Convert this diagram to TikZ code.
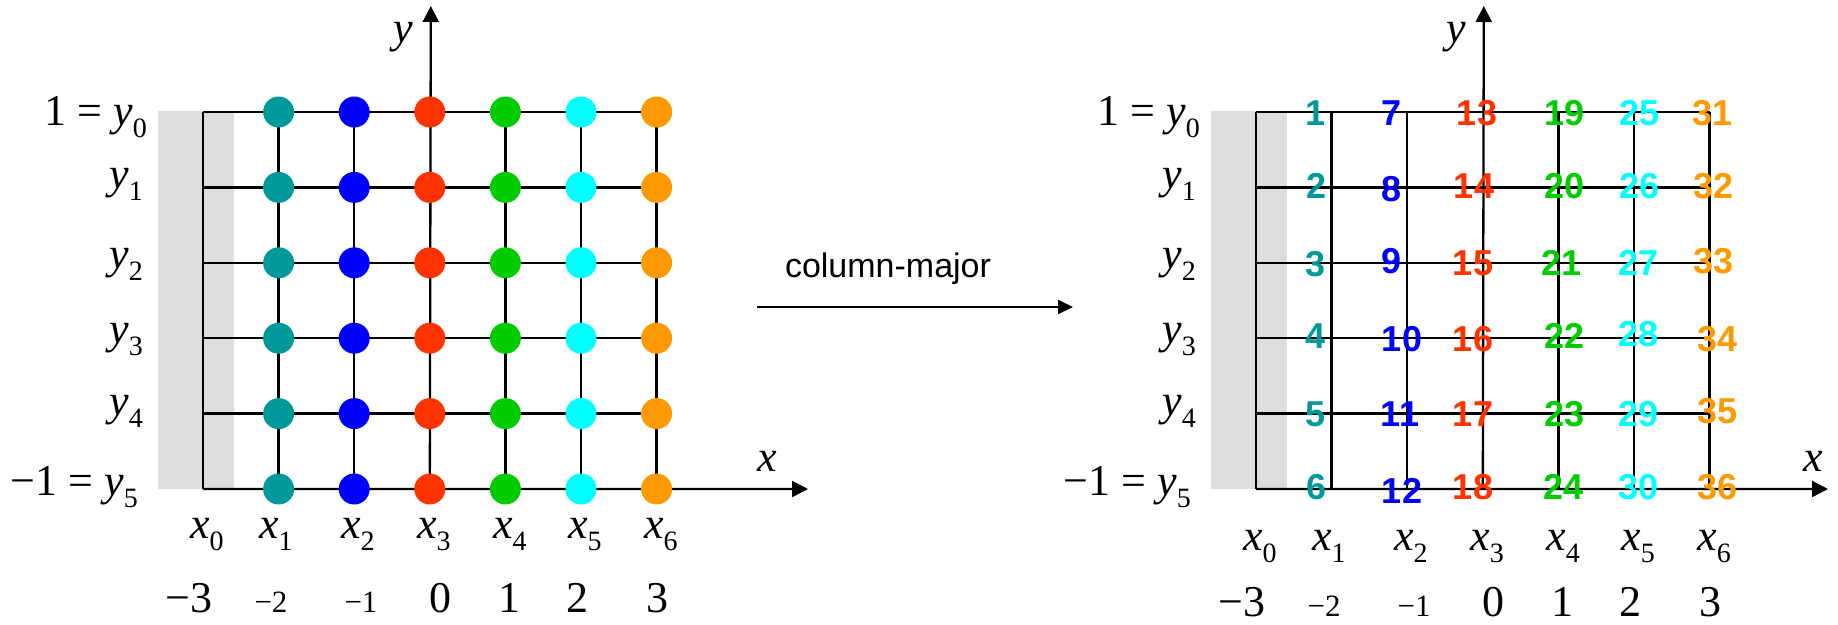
\documentclass[tikz,border=0pt]{standalone}
\usepackage{fontspec}
\setmainfont{Liberation Serif}
\newfontfamily\arialfont{Liberation Sans}
\usetikzlibrary{arrows.meta}
\definecolor{cteal}{HTML}{009999}
\definecolor{cblue}{HTML}{0000FF}
\definecolor{cred}{HTML}{FF3300}
\definecolor{cgreen}{HTML}{00CC00}
\definecolor{ccyan}{HTML}{00FFFF}
\definecolor{corange}{HTML}{FF9900}
\definecolor{cgray}{HTML}{DDDDDD}
\tikzset{
  gridline/.style={line width=2.3pt, black},
  axisline/.style={line width=2.3pt, black, -{Triangle[length=16pt,width=16pt]}},
  maparrow/.style={line width=2pt, black, -{Triangle[length=15pt,width=14pt]}},
  dot/.style={circle, fill=#1, draw=none, minimum size=31pt, inner sep=0pt},
  lbl/.style={inner sep=0pt, font=\fontsize{44}{48}\selectfont},
  sml/.style={inner sep=0pt, font=\fontsize{31}{34}\selectfont},
  num/.style={inner sep=0pt, text=#1, font=\arialfont\bfseries\fontsize{36}{38}\selectfont},
  cmtext/.style={inner sep=0pt, font=\arialfont\fontsize{34}{38}\selectfont},
}
\newcommand\lsub[2]{\textit{#1}\raisebox{-12pt}{\fontsize{28}{28}\selectfont #2}}
\begin{document}
\begin{tikzpicture}[x=1pt,y=-1pt]
\useasboundingbox (0,0) rectangle (1838,624);

\foreach \p/\sh/\xe/\xlx/\xb/\nb in {L/0/808/757/538/612, R/1053/775/750/550/616}{
\begin{scope}[xshift=\sh pt]
  \fill[cgray] (158,111) rectangle (234,489);
  \foreach \c in {0,...,6}{
    \foreach \r in {0,...,5}{
      \coordinate (\p-\c-\r) at ({203+75.6*\c},{112+75.4*\r});
    }
  }
  \foreach \r in {0,...,4}{ \draw[gridline] (\p-0-\r) -- (\p-6-\r); }
  \foreach \c in {0,1,2,4,5,6}{ \draw[gridline] (\p-\c-0) -- (\p-\c-5); }
  \coordinate (\p-xend) at (\xe,489);
  \coordinate (\p-yend) at (430.8,6);
  \draw[axisline] (\p-0-5) -- (\p-xend);
  \draw[axisline] (\p-3-5) -- (\p-yend);
  % axis labels
  \node[lbl, anchor=base west] (\p-ylab) at (393,42) {\textit{y}};
  \node[lbl, anchor=base west] (\p-xlab) at (\xlx,471) {\textit{x}};
  % y labels
  \node[lbl, anchor=base east] (\p-y0) at (147,125) {1 = \lsub{y}{0}};
  \node[lbl, anchor=base west] (\p-y1) at (109,188) {\lsub{y}{1}};
  \node[lbl, anchor=base west] (\p-y2) at (109,268) {\lsub{y}{2}};
  \node[lbl, anchor=base west] (\p-y3) at (109,343) {\lsub{y}{3}};
  \node[lbl, anchor=base west] (\p-y4) at (109,415) {\lsub{y}{4}};
  \node[lbl, anchor=base east] (\p-y5) at (138,495) {−1 = \lsub{y}{5}};
  % x labels
  \foreach \i/\lx in {0/190,1/259,2/341,3/417,4/493,5/568,6/644}{
    \node[lbl, anchor=base west] (\p-x\i) at (\lx,\xb) {\lsub{x}{\i}};
  }
  % values
  \node[lbl, anchor=base] (\p-v0) at (189,\nb) {−3};
  \node[sml, anchor=base] (\p-v1) at (271,\nb) {−2};
  \node[sml, anchor=base] (\p-v2) at (361,\nb) {−1};
  \node[lbl, anchor=base] (\p-v3) at (440,\nb) {0};
  \node[lbl, anchor=base] (\p-v4) at (509,\nb) {1};
  \node[lbl, anchor=base] (\p-v5) at (577,\nb) {2};
  \node[lbl, anchor=base] (\p-v6) at (657,\nb) {3};
\end{scope}
}

% dots on the left grid
\foreach \c/\col in {1/cteal,2/cblue,3/cred,4/cgreen,5/ccyan,6/corange}{
  \foreach \r in {0,...,5}{
    \node[dot=\col] (d-\c-\r) at (L-\c-\r) {};
  }
}

% numbers on the right grid
\foreach \n/\nx/\ny/\col in {
  1/1315/113/cteal, 2/1316/186/cteal, 3/1315/264/cteal, 4/1315/336/cteal, 5/1315/414/cteal, 6/1316/487/cteal,
  7/1391/113/cblue, 8/1391/189/cblue, 9/1391/261/cblue, 10/1402/339/cblue, 11/1400/414/cblue, 12/1402/491/cblue,
  13/1477/113/cred, 14/1474/186/cred, 15/1473/263/cred, 16/1473/339/cred, 17/1473/414/cred, 18/1473/487/cred,
  19/1564/113/cgreen, 20/1564/186/cgreen, 21/1561/263/cgreen, 22/1564/336/cgreen, 23/1564/414/cgreen, 24/1563/487/cgreen,
  25/1639/113/ccyan, 26/1639/186/ccyan, 27/1638/263/ccyan, 28/1638/334/ccyan, 29/1638/414/ccyan, 30/1638/487/ccyan,
  31/1712/113/corange, 32/1713/186/corange, 33/1713/261/corange, 34/1717/339/corange, 35/1717/411/corange, 36/1717/487/corange}{
  \node[num=\col] (n\n) at (\nx,\ny) {\n};
}

% mapping arrow
\node[cmtext, anchor=base] (cm) at (888,277) {column-major};
\coordinate (cmA) at (757,307);
\coordinate (cmB) at (1073,307);
\draw[maparrow] (cmA) -- (cmB);
\end{tikzpicture}
\end{document}
